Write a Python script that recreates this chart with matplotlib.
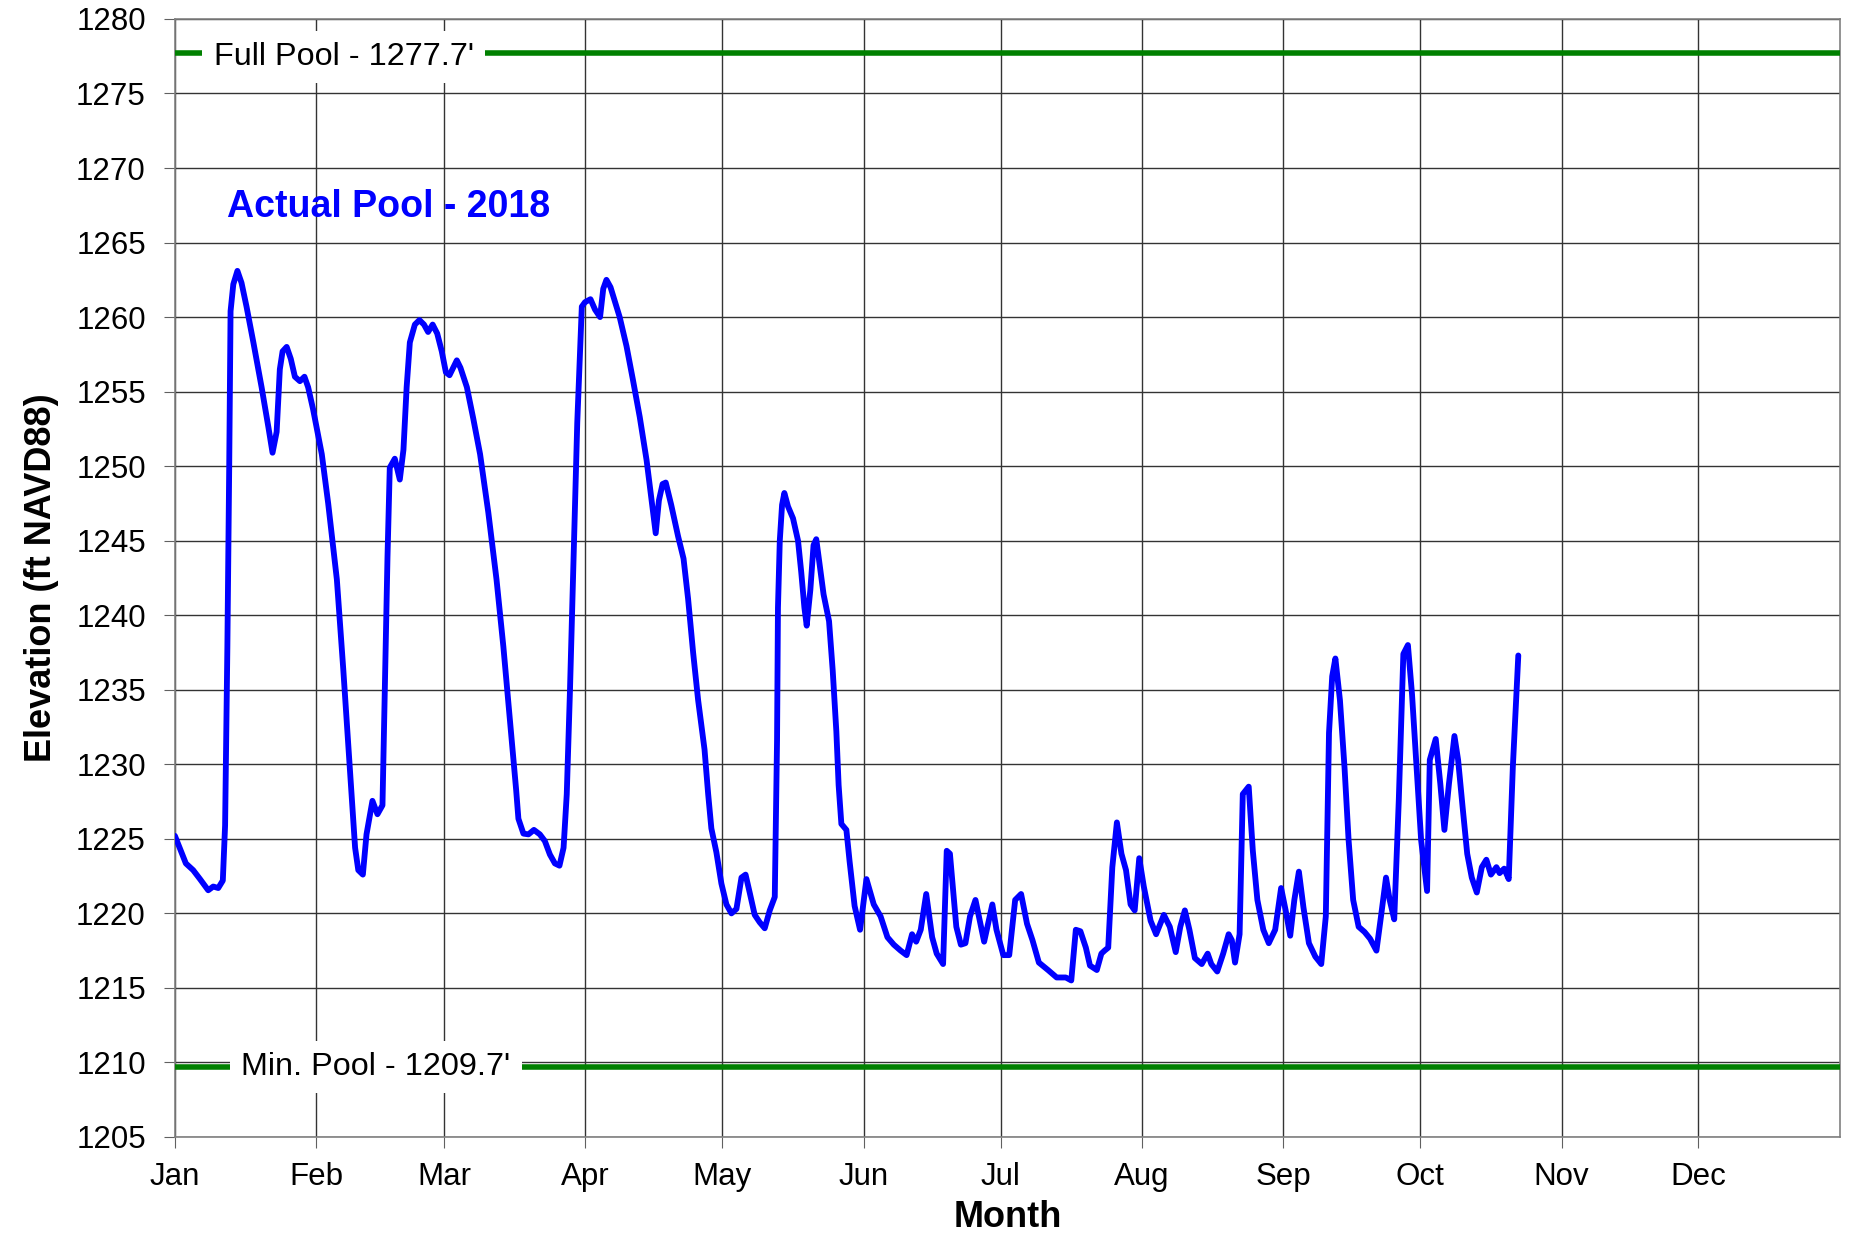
import matplotlib
matplotlib.use("Agg")
import matplotlib.pyplot as plt

plt.rcParams['font.family'] = ['Liberation Sans', 'DejaVu Sans']

# month starts (day of year) and labels
month_days = [0, 31, 59, 90, 120, 151, 181, 212, 243, 273, 304, 334]
month_labels = ['Jan', 'Feb', 'Mar', 'Apr', 'May', 'Jun',
                'Jul', 'Aug', 'Sep', 'Oct', 'Nov', 'Dec']

full_pool = 1277.7
min_pool = 1209.7

# actual pool 2018 (day of year, ft NAVD88)
day = [0, 2.4, 4, 5.5, 7.3, 8.4, 9.5, 10.5, 11, 11.5, 11.9, 12.2, 12.8, 13.7,
       14.6, 15.7, 17.2, 19, 20.5, 21.4, 22.3, 23, 23.6, 24.5, 25.4, 26.3,
       27.4, 28.4, 29.2, 30.3, 32.2, 33.6, 35.5, 36.9, 38.4, 39.5, 40.2,
       41.2, 42, 43.3, 44.4, 45.5, 46, 46.6, 47.1, 48.2, 49.3, 50.1, 50.8,
       51.5, 52.6, 53.6, 54.6, 55.5, 56.5, 57.5, 58.5, 59.4, 60.2, 61, 61.8,
       62.6, 64, 65.4, 66.9, 68.7, 70.5, 72, 73.5, 74.8, 75.3, 76.4, 77.5,
       78.7, 80, 81.1, 82.2, 83.3, 84.3, 85.2, 85.9, 86.6, 87.4, 88.2, 89.2,
       89.9, 91.1, 92.1, 93.2, 93.9, 94.6, 95.5, 97.5, 99, 100.4, 101.9,
       103.4, 104.5, 105.4, 106.1, 106.9, 107.6, 108.8, 110.3, 111.5, 112.5,
       113.6, 114.7, 116.1, 116.9, 117.6, 118.7, 119.8, 120.9, 122, 123.1,
       124.2, 125.1, 126, 127.1, 128.2, 129.3, 130.4, 131.5, 132, 132.2,
       132.6, 133.1, 133.6, 134.4, 135.5, 136.6, 137.3, 138, 138.5, 139.3,
       140, 140.6, 141.3, 142.2, 143.4, 144.2, 145, 145.5, 146.1, 147.2,
       147.9, 149, 150.2, 151.6, 153.2, 154.7, 156.2, 157.6, 159.1, 160.4,
       161.6, 162.5, 163.5, 164.7, 166, 167, 168.4, 169.2, 169.9, 171.3,
       172.3, 173.3, 174.3, 175.5, 177.4, 179.2, 180.1, 181.6, 182.9, 184.2,
       185.5, 186.8, 188, 189.4, 191.4, 193.3, 195.3, 196.5, 197.5, 198.5,
       199.7, 200.6, 202.1, 203.1, 203.8, 204.6, 205.5, 206.5, 207.5, 208.5,
       209.5, 210.4, 211.4, 212.4, 213.9, 215.1, 216.8, 218.1, 219.4, 220.4,
       221.4, 222.4, 223.6, 225.1, 226.4, 227.2, 228.5, 229.8, 231, 231.7,
       232.4, 233.4, 234.1, 235.4, 236.3, 237.3, 238.6, 239.8, 241.2, 242.5,
       243.5, 244.5, 245.4, 246.4, 247.4, 248.6, 250, 251.3, 252.3, 253,
       253.7, 254.4, 255.4, 256.4, 257.3, 258.3, 259.5, 260.8, 262, 263.4,
       264.4, 265.5, 266.3, 267.3, 268.3, 269.3, 270.3, 271.2, 272.2, 273.2,
       274.5, 275.1, 276.4, 277.4, 278.3, 279.3, 280.5, 281.3, 282.3, 283.3,
       284.3, 285.4, 286.5, 287.5, 288.5, 289.7, 290.4, 291.4, 292.4, 293.3,
       294.5]
elev = [1225.2, 1223.35, 1222.9, 1222.3, 1221.55, 1221.8, 1221.7, 1222.2,
        1225.9, 1237.9, 1249.9, 1260.4, 1262.2, 1263.1, 1262.3, 1260.7,
        1258.3, 1255.3, 1252.6, 1250.9, 1252.3, 1256.5, 1257.7, 1258.0,
        1257.2, 1256.0, 1255.7, 1256.0, 1255.3, 1253.8, 1250.8, 1247.5,
        1242.4, 1236.4, 1229.5, 1224.4, 1222.9, 1222.6, 1225.3, 1227.55,
        1226.65, 1227.25, 1234.9, 1243.9, 1249.9, 1250.5, 1249.1, 1251.1,
        1255.3, 1258.3, 1259.5, 1259.8, 1259.5, 1259.0, 1259.5, 1258.9,
        1257.7, 1256.3, 1256.1, 1256.6, 1257.1, 1256.6, 1255.3, 1253.2,
        1250.8, 1246.9, 1242.4, 1237.9, 1232.8, 1228.3, 1226.35, 1225.35,
        1225.3, 1225.6, 1225.3, 1224.85, 1223.95, 1223.35, 1223.2, 1224.4,
        1228.0, 1234.9, 1243.9, 1252.9, 1260.7, 1261.0, 1261.2, 1260.5,
        1260.0, 1261.9, 1262.5, 1262.0, 1260.0, 1258.05, 1255.8, 1253.3,
        1250.4, 1247.7, 1245.5, 1247.7, 1248.8, 1248.9, 1247.4, 1245.3,
        1243.8, 1241.1, 1237.5, 1234.3, 1231.0, 1228.0, 1225.7, 1224.1,
        1222.0, 1220.6, 1220.0, 1220.3, 1222.4, 1222.6, 1221.4, 1219.9,
        1219.4, 1219.0, 1220.2, 1221.1, 1231.6, 1240.5, 1245.0, 1247.4,
        1248.2, 1247.3, 1246.5, 1245.0, 1242.9, 1240.5, 1239.3, 1241.7,
        1244.7, 1245.1, 1243.5, 1241.4, 1239.6, 1236.3, 1232.2, 1228.6,
        1226.0, 1225.6, 1223.5, 1220.5, 1218.9, 1222.3, 1220.6, 1219.8,
        1218.4, 1217.9, 1217.5, 1217.2, 1218.6, 1218.1, 1218.9, 1221.3,
        1218.4, 1217.3, 1216.6, 1224.2, 1224.0, 1219.1, 1217.9, 1218.0,
        1219.8, 1220.9, 1218.1, 1220.6, 1218.9, 1217.2, 1217.2, 1220.9,
        1221.3, 1219.3, 1218.2, 1216.7, 1216.2, 1215.7, 1215.7, 1215.5,
        1218.9, 1218.8, 1217.7, 1216.5, 1216.2, 1217.3, 1217.5, 1217.7,
        1223.1, 1226.1, 1224.0, 1222.9, 1220.6, 1220.2, 1223.7, 1221.8,
        1219.5, 1218.6, 1219.9, 1219.1, 1217.4, 1219.1, 1220.2, 1218.9,
        1217.0, 1216.6, 1217.3, 1216.6, 1216.1, 1217.3, 1218.6, 1218.2,
        1216.7, 1218.6, 1228.0, 1228.5, 1224.2, 1220.9, 1218.9, 1218.0,
        1218.9, 1221.7, 1220.2, 1218.5, 1220.9, 1222.8, 1220.4, 1218.0,
        1217.1, 1216.6, 1219.8, 1232.1, 1235.9, 1237.1, 1234.3, 1229.8,
        1224.9, 1220.9, 1219.1, 1218.75, 1218.3, 1217.5, 1219.8, 1222.4,
        1220.9, 1219.6, 1227.6, 1237.4, 1238.0, 1234.7, 1229.8, 1224.9,
        1221.5, 1230.3, 1231.7, 1228.7, 1225.6, 1228.7, 1231.9, 1230.3,
        1227.1, 1224.0, 1222.4, 1221.4, 1223.1, 1223.6, 1222.6, 1223.1,
        1222.7, 1223.0, 1222.3, 1229.8, 1237.3]

fig = plt.figure(figsize=(18.51, 12.38), dpi=100)
ax = fig.add_axes([0.0945, 0.0816, 0.8995, 0.9031])

ax.set_xlim(0, 365)
ax.set_ylim(1205, 1280)
ax.set_yticks(range(1205, 1281, 5))
ax.set_xticks(month_days)
ax.set_xticklabels(month_labels)

ax.grid(True, color='#333333', linewidth=1.0)
ax.set_axisbelow(True)
for s in ax.spines.values():
    s.set_color('#808080')
    s.set_linewidth(1.2)
ax.tick_params(axis='both', direction='out', length=8, color='#606060',
               labelsize=22.5)
ax.tick_params(axis='y', pad=13)
ax.tick_params(axis='x', pad=10)

ax.axhline(full_pool, color='#008000', linewidth=4, zorder=3)
ax.axhline(min_pool, color='#008000', linewidth=4, zorder=3)

box = dict(boxstyle='square,pad=0.35', facecolor='white', edgecolor='none')
ax.text(37, full_pool - 0.25, "Full Pool - 1277.7'", fontsize=23.3,
        ha='center', va='center', bbox=box, zorder=4)
ax.text(44, min_pool, "Min. Pool - 1209.7'", fontsize=23.3, ha='center',
        va='center', bbox=box, zorder=4)

ax.plot(day, elev, color='#0000FF', linewidth=4.2, solid_joinstyle='round',
        solid_capstyle='round', zorder=5)

ax.text(46.8, 1267.4, 'Actual Pool - 2018', color='#0000FF', fontsize=27,
        fontweight='bold', ha='center', va='center', zorder=6)

ax.set_xlabel('Month', fontsize=26, fontweight='bold', labelpad=6)
ax.set_ylabel('Elevation (ft NAVD88)', fontsize=26, fontweight='bold',
              labelpad=12)

fig.savefig('out.png', dpi=100)
